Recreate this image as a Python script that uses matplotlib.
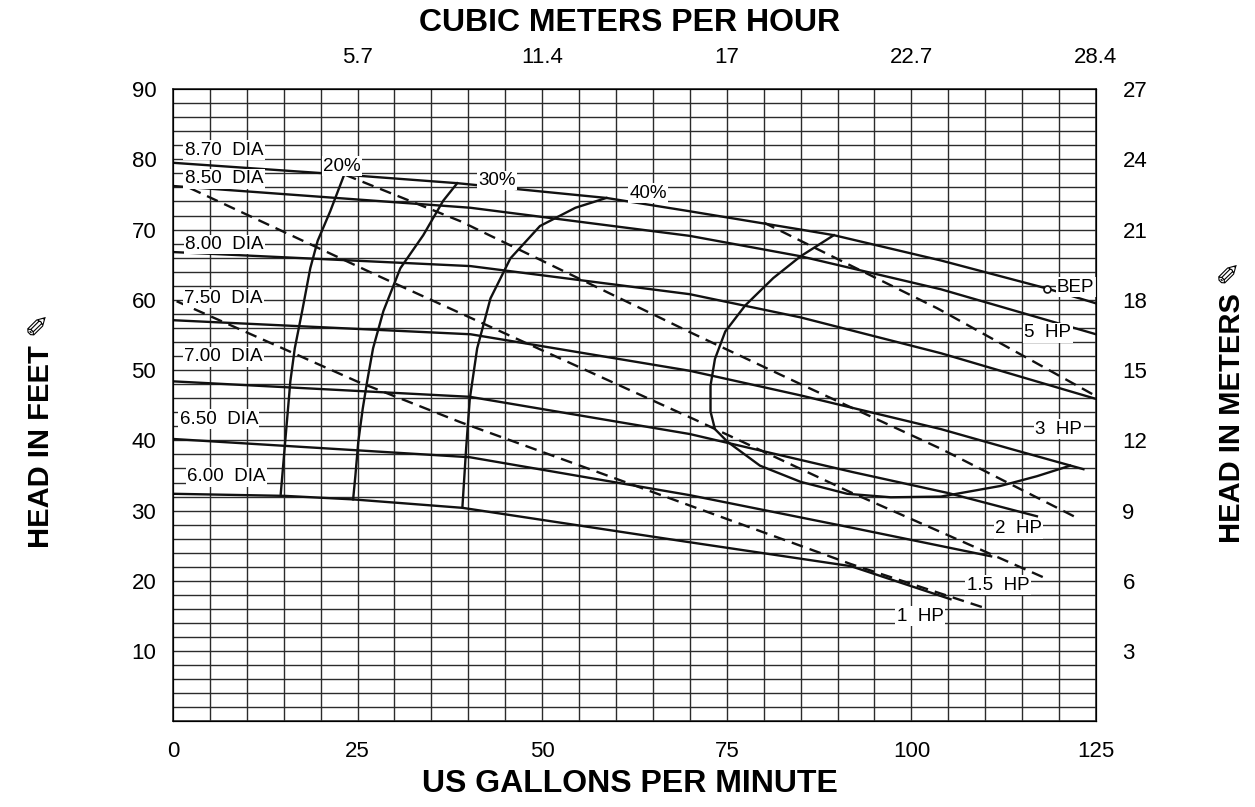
import matplotlib.pyplot as plt

plt.rcParams['font.family'] = ['Liberation Sans', 'DejaVu Sans']

# head curves per impeller diameter (gpm, ft)
dia_names = ['8.70  DIA', '8.50  DIA', '8.00  DIA', '7.50  DIA', '7.00  DIA', '6.50  DIA', '6.00  DIA']
dia_q = [
    [0, 23.3, 38.5, 58.7, 70, 85, 89.5, 104, 118.4, 125],
    [0, 40.3, 70, 85, 104, 125],
    [0, 40.3, 70, 85, 104, 125],
    [0, 40.3, 70, 85, 104, 113.4, 123.3],
    [0, 40.2, 70, 92, 105, 117],
    [0, 40.2, 70, 91.8, 110.8],
    [0, 15.2, 24.4, 39.2, 70, 91.8, 105.3],
]
dia_h = [
    [79.5, 77.8, 76.6, 74.5, 72.6, 70.0, 69.2, 65.6, 61.6, 59.5],
    [76.2, 73.1, 69.1, 66.2, 61.5, 55.1],
    [66.8, 64.8, 60.8, 57.5, 52.4, 45.9],
    [57.1, 55.1, 49.9, 46.4, 41.6, 38.8, 35.9],
    [48.4, 46.2, 40.9, 35.5, 32.5, 29.2],
    [40.2, 37.6, 32.2, 27.6, 23.5],
    [32.4, 32.1, 31.6, 30.4, 25.5, 22.1, 17.4],
]
dia_lbl_q = [1.6, 1.6, 1.7, 1.5, 1.5, 0.9, 1.9]
dia_lbl_h = [81.3, 77.2, 67.9, 60.2, 51.9, 43.0, 34.8]

# efficiency curves
eff_names = ['20%', '30%', '40%']
eff_q = [
    [14.6, 15.2, 15.9, 16.5, 17.5, 18.6, 19.6, 21.3, 23.3],
    [24.4, 24.7, 25.1, 25.7, 26.3, 27.1, 28.5, 30.8, 33.9, 36.6, 38.5],
    [39.2, 39.7, 40.2, 41.2, 43.0, 45.7, 49.7, 54.5, 58.7],
]
eff_h = [
    [32.4, 39.8, 48.4, 53.1, 58.4, 64.5, 68.4, 72.6, 78.1],
    [31.6, 34.9, 39.8, 44.5, 48.4, 53.1, 58.4, 64.5, 69.2, 74.1, 76.6],
    [30.5, 38.8, 45.9, 53.1, 60.2, 65.9, 70.5, 73.1, 74.5],
]
eff_lbl_q = [20.3, 41.3, 61.8]
eff_lbl_h = [79.0, 77.0, 75.2]

loop_q = [89.5, 85, 81.3, 77.5, 74.8, 73.4, 72.8, 72.8, 73.4, 75.1, 79.5, 85.0, 91.3, 97.2, 104, 112, 117, 121.5]
loop_h = [69.2, 66.2, 63.1, 59.2, 55.5, 51.6, 47.8, 44.1, 41.6, 39.8, 36.4, 34.1, 32.4, 31.9, 32.0, 33.5, 34.9, 36.4]

# constant power lines
hp_q = [
    [80, 85, 103.5, 125],
    [23.3, 38.9, 70, 85, 104, 122],
    [2.3, 27.6, 71, 91.8, 117.9],
    [0.5, 24.9, 38.9, 91.8, 109.8],
]
hp_h = [
    [71.0, 68.4, 58.8, 46.3],
    [77.8, 71.2, 55.4, 48.0, 38.8, 29.2],
    [75.9, 63.5, 42.8, 32.6, 20.5],
    [59.8, 48.4, 42.6, 22.4, 16.2],
]
hp_names = ['5  HP', '3  HP', '2  HP', '1.5  HP', '1  HP']
hp_lbl_q = [115.3, 116.8, 111.3, 107.5, 98.0]
hp_lbl_h = [55.3, 41.6, 27.4, 19.4, 15.0]

bep_q, bep_h = 118.4, 61.6

bottom_ticks = [0, 25, 50, 75, 100, 125]
top_labels = ['5.7', '11.4', '17', '22.7', '28.4']
left_ticks = [10, 20, 30, 40, 50, 60, 70, 80, 90]
right_labels = ['3', '6', '9', '12', '15', '18', '21', '24', '27']

fig = plt.figure(figsize=(12.55, 8.07), dpi=100)
ax = fig.add_axes([0.1378, 0.106, 0.7355, 0.7837])
ax.set_xlim(0, 125)
ax.set_ylim(0, 90)

gc = '#2b2b2b'
for x in range(5, 125, 5):
    ax.axvline(x, color=gc, lw=1.0, zorder=1)
for y in range(2, 90, 2):
    ax.axhline(y, color=gc, lw=1.0, zorder=1)
for s in ax.spines.values():
    s.set_linewidth(1.2)
    s.set_color(gc)

for q, h in zip(dia_q, dia_h):
    ax.plot(q, h, color='#111111', lw=1.7, zorder=3)
for q, h in zip(eff_q, eff_h):
    ax.plot(q, h, color='#111111', lw=1.7, zorder=3)
ax.plot(loop_q, loop_h, color='#111111', lw=1.7, zorder=3)
for q, h in zip(hp_q, hp_h):
    ax.plot(q, h, color='#111111', lw=1.7, dashes=(5, 3), zorder=3)

lbl_box = dict(facecolor='white', edgecolor='none', pad=1.0)
for n, q, h in zip(dia_names, dia_lbl_q, dia_lbl_h):
    ax.text(q, h, n, fontsize=13.5, va='center', ha='left', bbox=lbl_box, zorder=4)
for n, q, h in zip(eff_names, eff_lbl_q, eff_lbl_h):
    ax.text(q, h, n, fontsize=13.5, va='center', ha='left', bbox=lbl_box, zorder=4)
for n, q, h in zip(hp_names, hp_lbl_q, hp_lbl_h):
    ax.text(q, h, n, fontsize=13.5, va='center', ha='left', bbox=lbl_box, zorder=4)
ax.plot(bep_q, bep_h, 'o', mfc='white', mec='#111111', ms=5, mew=1.2, zorder=5)
ax.text(bep_q + 1.3, bep_h + 0.2, 'BEP', fontsize=13.5, va='center', ha='left', bbox=lbl_box, zorder=4)

ax.set_xticks(bottom_ticks)
ax.set_xticklabels([str(t) for t in bottom_ticks], fontsize=16)
ax.set_yticks(left_ticks)
ax.set_yticklabels([str(t) for t in left_ticks], fontsize=16)
ax.tick_params(length=0, pad=12)
ax.tick_params(axis='x', pad=14)

ax_top = ax.twiny()
ax_top.set_xlim(0, 125)
ax_top.set_xticks(bottom_ticks[1:])
ax_top.set_xticklabels(top_labels, fontsize=16)
ax_top.tick_params(length=0, pad=15)

ax_r = ax.twinx()
ax_r.set_ylim(0, 90)
ax_r.set_yticks(left_ticks)
ax_r.set_yticklabels(right_labels, fontsize=16)
ax_r.tick_params(length=0, pad=19)

fig.text(0.5016, 0.972, 'CUBIC METERS PER HOUR', fontsize=23, fontweight='bold', ha='center', va='center')
fig.text(0.5016, 0.028, 'US GALLONS PER MINUTE', fontsize=23, fontweight='bold', ha='center', va='center')
fig.text(0.033, 0.467, 'HEAD IN FEET \u270e', fontsize=21, fontweight='bold', rotation=90, ha='center', va='center')
fig.text(0.982, 0.502, 'HEAD IN METERS \u270e', fontsize=21, fontweight='bold', rotation=90, ha='center', va='center')

fig.savefig('out.png', dpi=100)
